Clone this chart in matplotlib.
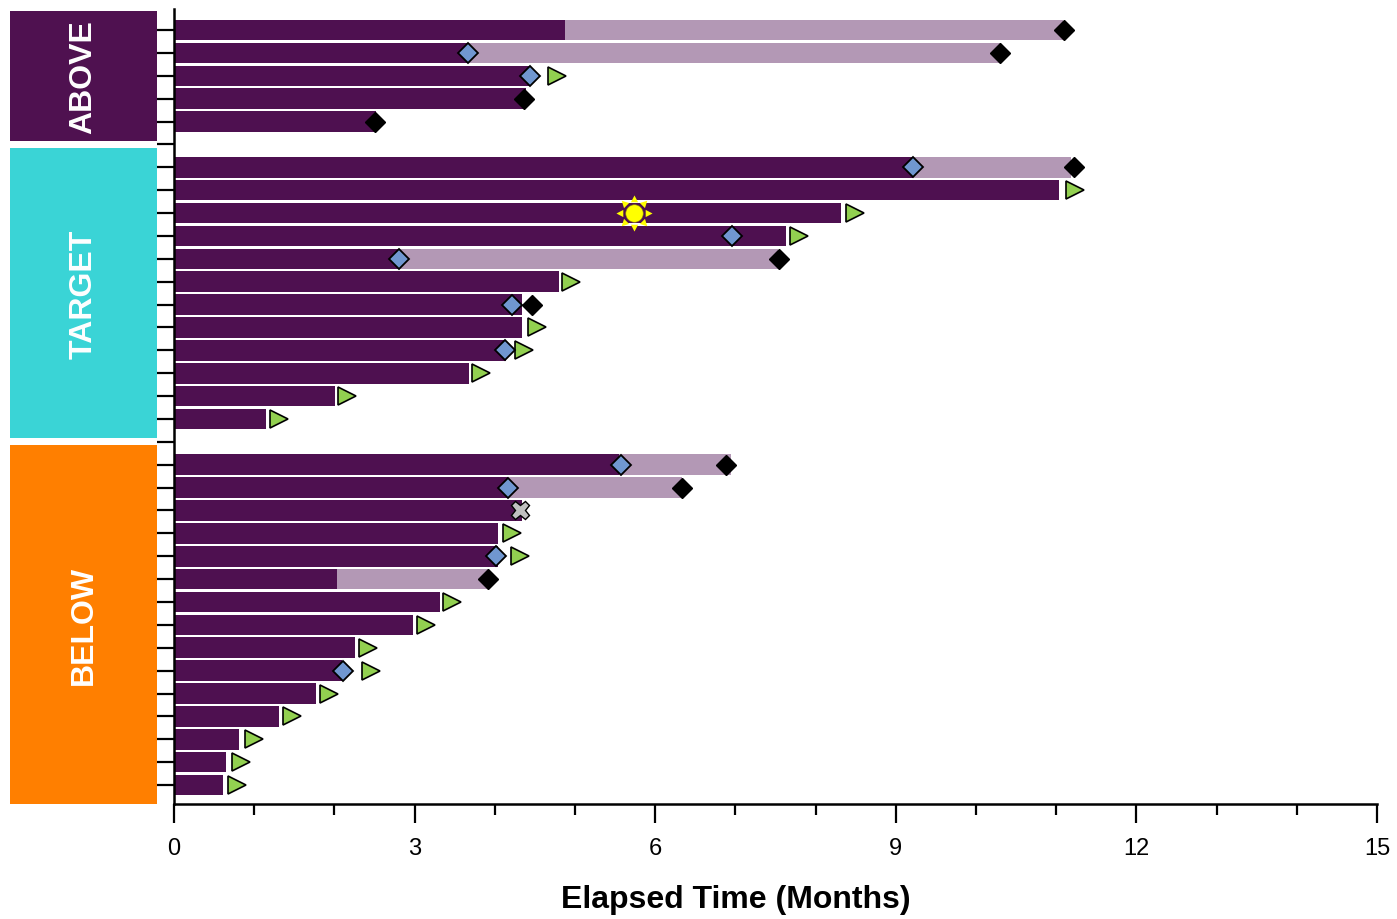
import numpy as np
import matplotlib
matplotlib.use("Agg")
import matplotlib.pyplot as plt
from matplotlib.patches import Rectangle
from matplotlib.path import Path
import matplotlib.transforms as mtransforms

plt.rcParams['font.family'] = ['Liberation Sans', 'DejaVu Sans']

# groups, top to bottom
groups = ["ABOVE", "TARGET", "BELOW"]
group_sizes = [5, 12, 15]
group_colors = ["#4F1150", "#3AD4D6", "#FF7F00"]

# end of the dark (first) segment, months
dark_end = [4.87, 3.66, 4.44, 4.39, 2.52,
            9.21, 11.04, 8.32, 7.63, 2.81, 4.80, 4.34, 4.34, 4.14, 3.68, 2.01, 1.15,
            5.55, 4.16, 4.34, 4.04, 4.04, 2.03, 3.32, 2.98, 2.26, 2.09, 1.77, 1.31, 0.81, 0.65, 0.61]
# end of the light (second) segment, None where there is none
light_end = [11.08, 10.30, None, None, None,
             11.19, None, None, None, 7.53, None, None, None, None, None, None, None,
             6.94, 6.34, None, None, None, 3.93, None, None, None, None, None, None, None, None, None]

blue_diamond = [None, 3.66, 4.44, None, None,
                9.21, None, None, 6.96, 2.81, None, 4.21, None, 4.13, None, None, None,
                5.57, 4.16, None, None, 4.02, None, None, None, None, 2.11, None, None, None, None, None]
black_diamond = [11.10, 10.30, None, 4.37, 2.51,
                 11.22, None, None, None, 7.54, None, 4.47, None, None, None, None, None,
                 6.88, 6.34, None, None, None, 3.91, None, None, None, None, None, None, None, None, None]
ongoing = [None, None, 4.77, None, None,
           None, 11.23, 8.49, 7.79, None, 4.95, None, 4.53, 4.36, 3.83, 2.16, 1.31,
           None, None, None, 4.21, 4.31, None, 3.47, 3.14, 2.42, 2.46, 1.93, 1.47, 1.00, 0.84, 0.79]
gray_x = {19: 4.32}
sun = {7: 5.74}

DARK = "#4E1050"
LIGHT = "#B398B5"

# row positions, with one empty row between groups
rows = []
group_spans = []
r = 0
for n in group_sizes:
    group_spans.append((r, r + n - 1))
    rows.extend(range(r, r + n))
    r += n + 1
rows = np.array(rows)
last = rows[-1]

fig = plt.figure(figsize=(13.97, 9.2), dpi=100)
ax = fig.add_axes([174 / 1397, 1 - 805 / 920, (1377 - 174) / 1397, 795 / 920])

ax.barh(rows, dark_end, height=0.9, color=DARK, zorder=2)
for y, d, l in zip(rows, dark_end, light_end):
    if l is not None:
        ax.barh(y, l - d, left=d, height=0.9, color=LIGHT, zorder=2)


def pts(vals):
    ys = [y for y, v in zip(rows, vals) if v is not None]
    xs = [v for v in vals if v is not None]
    return xs, ys


# sun rays marker: 8 small triangles round the centre
verts, codes = [], []
for k in range(8):
    t = np.deg2rad(45 * k)
    d = np.array([np.cos(t), np.sin(t)])
    p = np.array([-np.sin(t), np.cos(t)])
    verts += [list(d * 1.0), list(d * 0.62 + p * 0.2), list(d * 0.62 - p * 0.2), [0, 0]]
    codes += [Path.MOVETO, Path.LINETO, Path.LINETO, Path.CLOSEPOLY]
rays = Path(verts, codes)

xs, ys = pts(ongoing)
ax.plot(xs, ys, ls="none", marker=">", ms=13.5, mfc="#92D050", mec="black", mew=1.2, zorder=4)
xs, ys = pts(blue_diamond)
ax.plot(xs, ys, ls="none", marker="D", ms=10.5, mfc="#7097D0", mec="black", mew=1.3, zorder=4)
xs, ys = pts(black_diamond)
ax.plot(xs, ys, ls="none", marker="D", ms=10.5, mfc="black", mec="black", mew=1, zorder=4)
for i, v in gray_x.items():
    ax.plot(v, rows[i], ls="none", marker="X", ms=13, mfc="#C0C0C0", mec="black", mew=1, zorder=4)
for i, v in sun.items():
    ax.plot(v, rows[i], ls="none", marker=rays, ms=26, mfc="#FFFF00", mec="#FFFF00", mew=0, zorder=4)
    ax.plot(v, rows[i], ls="none", marker="o", ms=12.5, mfc="#FFFF00", mec="#A0A000", mew=0.4, zorder=5)

ax.set_xlim(0, 15)
ax.set_ylim(last + 0.83, -0.92)
ax.set_xticks(np.arange(0, 16, 3))
ax.set_xticks(np.arange(0, 16, 1), minor=True)
ax.set_yticks(np.arange(0, last + 1))
ax.set_yticklabels([])
ax.tick_params(axis="y", length=12, width=1.6, direction="out")
ax.tick_params(axis="x", which="major", length=13.5, width=1.6, pad=10, labelsize=17)
ax.tick_params(axis="x", which="minor", length=8, width=1.6)
for s in ["top", "right"]:
    ax.spines[s].set_visible(False)
for s in ["left", "bottom"]:
    ax.spines[s].set_linewidth(1.8)

ax.set_xlabel("Elapsed Time (Months)", fontsize=23, fontweight="bold")
ax.xaxis.set_label_coords(0.467, -0.12)
ax.xaxis.label.set_va("center")

# group boxes on the left
trans = mtransforms.blended_transform_factory(fig.transFigure, ax.transData)
x0, x1 = 10 / 1397, 157 / 1397
for name, col, (a, b) in zip(groups, group_colors, group_spans):
    top = a - 1 + 0.15
    bot = b + 1 - 0.15
    ax.add_patch(Rectangle((x0, top), x1 - x0, bot - top, transform=trans,
                           facecolor=col, edgecolor="none", clip_on=False))
    ax.text((x0 + x1) / 2, (top + bot) / 2, name, transform=trans, rotation=90,
            ha="center", va="center", color="white", fontsize=23, fontweight="bold")

fig.savefig("out.png", dpi=100)
